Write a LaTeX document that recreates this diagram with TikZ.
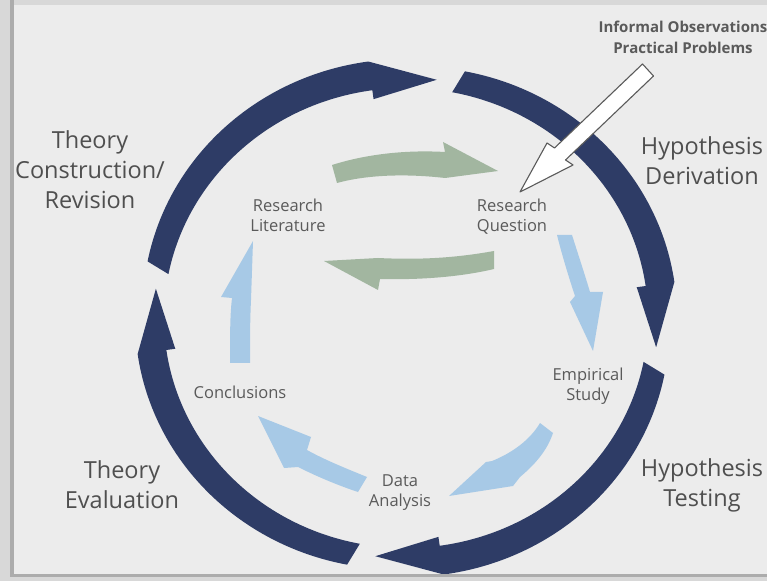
\documentclass[tikz,border=0pt]{standalone}
\usepackage{fontspec}
\setmainfont{Open Sans}
\definecolor{ringblue}{HTML}{2E3C66}
\definecolor{lightblue}{HTML}{A7C9E6}
\definecolor{sage}{HTML}{A2B6A0}
\definecolor{paper}{HTML}{ECECEC}
\definecolor{labelgray}{HTML}{4F4F4F}
\definecolor{smallgray}{HTML}{5A5A5A}
\definecolor{framegray}{HTML}{ACACAC}
\definecolor{framelight}{HTML}{D8D8D8}

% one segment of the outer cycle: #1 = start angle, #2 = angle of the tip
\newcommand{\ringarrow}[2]{%
  \pgfmathsetmacro{\headbase}{#2+15}%
  \fill[ringblue] (#1:242 and 230)
    arc[start angle=#1, end angle=\headbase, x radius=242, y radius=230]
    -- (\headbase:233 and 221) -- (#2:252 and 240) -- (\headbase:271 and 259)
    arc[start angle=\headbase, end angle=#1, x radius=262, y radius=250]
    -- cycle;}

\begin{document}
\begin{tikzpicture}[x=1pt,y=1pt,
  bigtext/.style={font=\fontsize{23.5}{30}\selectfont, text=labelgray, align=center, inner sep=0pt},
  smalltext/.style={font=\fontsize{16.5}{20}\selectfont, text=smallgray, align=center, inner sep=0pt},
  notetext/.style={font=\fontsize{15}{21}\selectfont\bfseries, text=smallgray, align=center, inner sep=0pt},
  innerstep/.style={fill=lightblue},
  litloop/.style={fill=sage},
  inputarrow/.style={fill=white, draw=smallgray, line width=1.1pt, line join=round}]

\useasboundingbox (0,0) rectangle (767,581);
\fill[paper] (0,0) rectangle (767,581);

% outer cycle of four arrows
\begin{scope}[shift={(406,263)}]
  \ringarrow{169}{83}
  \ringarrow{79}{-7}
  \ringarrow{-11}{-97}
  \ringarrow{-101}{-187}
\end{scope}

% everything below uses image-style coordinates (y grows downwards)
\begin{scope}[shift={(0,581)}, yscale=-1]

  % labels of the inner cycle
  \node[smalltext] (lit)  at (288,215) {Research\\Literature};
  \node[smalltext] (rq)   at (512,217) {Research\\Question};
  \node[smalltext] (es)   at (588,386) {Empirical\\Study};
  \node[smalltext] (da)   at (400,493) {Data\\Analysis};
  \node[smalltext] (conc) at (240,392) {Conclusions};

  % labels of the outer cycle
  \node[bigtext] (tcr) at (90,170)  {Theory\\Construction/\\Revision};
  \node[bigtext] (hd)  at (702,161) {Hypothesis\\Derivation};
  \node[bigtext] (ht)  at (702,485) {Hypothesis\\Testing};
  \node[bigtext] (te)  at (122,485) {Theory\\Evaluation};
  \node[notetext] (obs) at (683,37) {Informal Observations\\Practical Problems};

  % literature <-> question loop
  \fill[litloop] (332,165) .. controls (370,153) and (410,150) .. (445,152)
    -- (443,142) -- (498,171) -- (445,178)
    .. controls (410,174) and (370,174) .. (337,183) -- cycle;
  \fill[litloop] (494,251) .. controls (455,258) and (420,260) .. (378,258)
    -- (324,261) -- (378,290) -- (380,279)
    .. controls (420,280) and (460,277) .. (494,269) -- cycle;

  % question -> study -> analysis -> conclusions -> literature
  \fill[innerstep] (557,235) .. controls (562,255) and (569,278) .. (575,296)
    -- (570,302) -- (593,351) -- (603,292) -- (590,292)
    .. controls (584,272) and (578,254) .. (572,235) -- cycle;
  \fill[innerstep] (540,423) .. controls (530,440) and (512,453) .. (492,461)
    -- (486,462) -- (449,496) -- (513,486) -- (520,477)
    .. controls (538,462) and (548,448) .. (553,433) -- cycle;
  \fill[innerstep] (367,477) .. controls (345,468) and (325,460) .. (307,450)
    -- (311,437) -- (258,416) -- (284,468) -- (298,467)
    .. controls (320,478) and (340,486) .. (358,492) -- cycle;
  \fill[innerstep] (230,363) .. controls (230,335) and (230,315) .. (232,298)
    -- (221,297) -- (253,241) -- (251,300)
    .. controls (250,320) and (250,340) .. (250,363) -- cycle;

  % outside input into the research question
  \draw[inputarrow] (642.5,64) -- (554.5,148) -- (547,143) -- (520,192)
    -- (573,165) -- (565.5,160) -- (653.5,76) -- cycle;

  % frame of the slide
  \fill[framelight] (0,0) rectangle (767,5);
  \fill[framelight] (0,0) rectangle (10,581);
  \fill[framegray] (10,0) rectangle (14,575);
  \fill[framegray] (10,574) rectangle (767,577);
  \fill[framelight] (0,577) rectangle (767,581);
\end{scope}
\end{tikzpicture}
\end{document}
